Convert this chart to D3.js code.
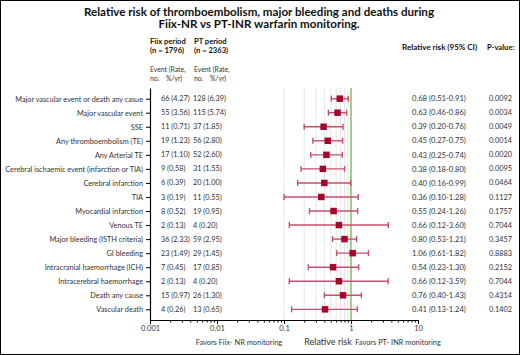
<!DOCTYPE html>
<html>
<head>
<meta charset="utf-8">
<script src="https://cdn.jsdelivr.net/npm/d3@7"></script>
<style>
  body { margin: 0; background: #fff; }
  svg { display: block; font-family: Lato, "Open Sans", sans-serif; }
</style>
</head>
<body>
<div id="chart"></div>
<script>
// Outcome rows (top to bottom)
const outcomes = [
  'Major vascular event or death any casue',
  'Major vascular event',
  'SSE',
  'Any thromboembolism (TE)',
  'Any Arterial TE',
  'Cerebral ischaemic event (infarction or TIA)',
  'Cerebral infarction',
  'TIA',
  'Myocardial infarction',
  'Venous TE',
  'Major bleeding (ISTH criteria)',
  'GI bleeding',
  'Intracranial haemorrhage (ICH)',
  'Intracerebral haemorrhage',
  'Death any cause',
  'Vascular death'
];
const fiixEvents = [66, 55, 11, 19, 17, 9, 6, 3, 8, 2, 36, 23, 7, 2, 15, 4];
const fiixRates = [4.27, 3.56, 0.71, 1.23, 1.10, 0.58, 0.39, 0.19, 0.52, 0.13, 2.33, 1.49, 0.45, 0.13, 0.97, 0.26];
const ptEvents = [128, 115, 37, 56, 52, 31, 20, 11, 19, 4, 59, 29, 17, 4, 26, 13];
const ptRates = [6.39, 5.74, 1.85, 2.80, 2.60, 1.55, 1.00, 0.55, 0.95, 0.20, 2.95, 1.45, 0.85, 0.20, 1.30, 0.65];
const relRisk = [0.68, 0.63, 0.39, 0.45, 0.43, 0.38, 0.40, 0.36, 0.55, 0.66, 0.80, 1.06, 0.54, 0.66, 0.76, 0.41];
const ciLow = [0.51, 0.46, 0.20, 0.27, 0.25, 0.18, 0.16, 0.10, 0.24, 0.12, 0.53, 0.61, 0.23, 0.12, 0.40, 0.13];
const ciHigh = [0.91, 0.86, 0.76, 0.75, 0.74, 0.80, 0.99, 1.28, 1.26, 3.60, 1.21, 1.82, 1.30, 3.59, 1.43, 1.24];
const pValues = [0.0092, 0.0034, 0.0049, 0.0014, 0.0020, 0.0095, 0.0464, 0.1127, 0.1757, 0.7044, 0.3457, 0.8883, 0.2152, 0.7044, 0.4314, 0.1402];

// axis ticks
const decadeTicks = [0.001, 0.01, 0.1, 1, 10];
const gridValues = [0.1, 0.2, 0.3, 0.4, 0.5, 0.6, 0.7, 0.8, 0.9];

const data = outcomes.map((name, i) => ({
  name: name,
  fiix: fiixEvents[i] + ' (' + fiixRates[i].toFixed(2) + ')',
  pt: ptEvents[i] + ' (' + ptRates[i].toFixed(2) + ')',
  rr: relRisk[i], lo: ciLow[i], hi: ciHigh[i],
  p: pValues[i]
}));

const width = 520, height = 355;
const svg = d3.select('#chart').append('svg')
  .attr('width', width)
  .attr('height', height);

// frame
svg.append('rect')
  .attr('x', 0.5).attr('y', 0.5)
  .attr('width', width - 1).attr('height', height - 1)
  .attr('fill', 'none').attr('stroke', '#000');

const x = d3.scaleLog().domain([0.001, 10]).range([150, 418]);
const y = d3.scalePoint().domain(outcomes).range([88, 320]).padding(0.76);
const plotTop = y.range()[0], plotBottom = y.range()[1];

// title
const title = svg.append('g').attr('font-weight', 'bold').attr('font-size', 11.6)
  .attr('text-anchor', 'middle').attr('fill', '#111');
title.append('text').attr('x', 259).attr('y', 16)
  .text('Relative risk of thromboembolism, major bleeding and deaths during');
title.append('text').attr('x', 259).attr('y', 28)
  .text('Fiix-NR vs PT-INR warfarin monitoring.');

// column headers
const head = svg.append('g').attr('font-size', 7.6).attr('font-weight', 'bold').attr('fill', '#111');
head.append('text').attr('x', 150).attr('y', 44).text('Fiix period');
head.append('text').attr('x', 150).attr('y', 53).text('(n = 1796)');
head.append('text').attr('x', 194).attr('y', 44).text('PT period');
head.append('text').attr('x', 194).attr('y', 53).text('(n = 2363)');
head.append('text').attr('x', 402).attr('y', 50).attr('font-size', 8).text('Relative risk (95% CI)');
head.append('text').attr('x', 487).attr('y', 50).text('P-value:');

const sub = svg.append('g').attr('font-size', 6.8).attr('fill', '#333');
[150, 194].forEach(cx => {
  sub.append('text').attr('x', cx).attr('y', 72).text('Event (Rate,');
  sub.append('text').attr('x', cx).attr('y', 81).text('no.');
  sub.append('text').attr('x', cx + 16).attr('y', 81).text('%/yr)');
});

// gridlines
svg.append('g').selectAll('line')
  .data(gridValues)
  .join('line')
  .attr('x1', d => x(d)).attr('x2', d => x(d))
  .attr('y1', plotTop).attr('y2', plotBottom)
  .attr('stroke', '#e6e6e6').attr('stroke-width', 1);

svg.append('line')
  .attr('x1', x(1)).attr('x2', x(1))
  .attr('y1', plotTop).attr('y2', plotBottom)
  .attr('stroke', '#9fd08a').attr('stroke-width', 2);

// left axis with outcome labels
const yAxis = svg.append('g')
  .attr('transform', 'translate(150,0)')
  .call(d3.axisLeft(y).tickSize(4).tickSizeOuter(0).tickPadding(3));
yAxis.selectAll('text').attr('font-size', 7.3).attr('fill', '#333').attr('font-family', 'Lato, sans-serif');
yAxis.select('.domain').attr('stroke-width', 1.2);

// bottom log axis
const minorTicks = [];
[0.001, 0.01, 0.1, 1].forEach(dec => {
  for (let k = 1; k <= 9; k++) minorTicks.push(dec * k);
});
minorTicks.push(10);

const isDecade = d => decadeTicks.some(t => Math.abs(t - d) < 1e-9);
const xAxis = svg.append('g')
  .attr('transform', 'translate(0,' + plotBottom + ')')
  .call(d3.axisBottom(x).tickValues(minorTicks).tickSize(3).tickSizeOuter(0)
    .tickFormat(d => isDecade(d) ? d3.format('~g')(d) : ''));
xAxis.selectAll('.tick line').attr('y2', d => isDecade(d) ? 4 : 2.5);
xAxis.selectAll('text').attr('font-size', 7.5).attr('fill', '#333').attr('font-family', 'Lato, sans-serif');
xAxis.select('.domain').attr('stroke-width', 1.2);

// event columns
const rows = svg.append('g').attr('font-size', 7.3).attr('fill', '#333');
rows.selectAll('.fiix')
  .data(data).join('text').attr('class', 'fiix')
  .attr('x', 161).attr('y', d => y(d.name)).attr('dy', '0.35em')
  .text(d => d.fiix);
rows.selectAll('.pt')
  .data(data).join('text').attr('class', 'pt')
  .attr('x', 193).attr('y', d => y(d.name)).attr('dy', '0.35em')
  .text(d => d.pt);
rows.selectAll('.rr')
  .data(data).join('text').attr('class', 'rr')
  .attr('x', 412).attr('y', d => y(d.name)).attr('dy', '0.35em')
  .attr('font-size', 7.6)
  .text(d => d.rr.toFixed(2) + ' (' + d.lo.toFixed(2) + '-' + d.hi.toFixed(2) + ')');
rows.selectAll('.pv')
  .data(data).join('text').attr('class', 'pv')
  .attr('x', 489).attr('y', d => y(d.name)).attr('dy', '0.35em')
  .text(d => d.p.toFixed(4));

// confidence intervals
const ciColor = '#c4506b';
const ci = svg.append('g').attr('stroke', ciColor).attr('stroke-width', 1.4);
ci.selectAll('.ci')
  .data(data).join('line').attr('class', 'ci')
  .attr('x1', d => x(d.lo)).attr('x2', d => x(d.hi))
  .attr('y1', d => y(d.name)).attr('y2', d => y(d.name));
ci.selectAll('.capl')
  .data(data).join('line').attr('class', 'capl')
  .attr('x1', d => x(d.lo)).attr('x2', d => x(d.lo))
  .attr('y1', d => y(d.name) - 3).attr('y2', d => y(d.name) + 3);
ci.selectAll('.caph')
  .data(data).join('line').attr('class', 'caph')
  .attr('x1', d => x(d.hi)).attr('x2', d => x(d.hi))
  .attr('y1', d => y(d.name) - 3).attr('y2', d => y(d.name) + 3);

// point estimates
const sq = 6.5;
svg.append('g').selectAll('rect')
  .data(data).join('rect')
  .attr('x', d => x(d.rr) - sq / 2)
  .attr('y', d => y(d.name) - sq / 2)
  .attr('width', sq).attr('height', sq)
  .attr('fill', '#a6052b');

// footer labels
const foot = svg.append('g').attr('fill', '#333');
foot.append('text').attr('x', 239).attr('y', 345).attr('text-anchor', 'middle')
  .attr('font-size', 7.4).text('Favors Fiix- NR monitoring');
foot.append('text').attr('x', 328).attr('y', 345).attr('text-anchor', 'middle')
  .attr('font-size', 9).text('Relative risk');
foot.append('text').attr('x', 398).attr('y', 345).attr('text-anchor', 'middle')
  .attr('font-size', 7.4).text('Favors PT- INR monitoring');
</script>
</body>
</html>
